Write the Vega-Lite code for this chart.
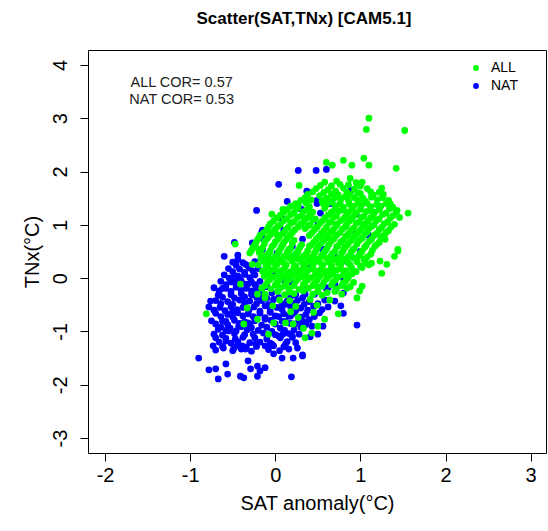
{
"$schema":"https://vega.github.io/schema/vega-lite/v6.json",
"width":458,"height":403,
"autosize":{"type":"none"},
"padding":{"left":88,"top":50,"right":2,"bottom":78},
"background":"white",
"config":{"view":{"stroke":"black","strokeWidth":1},"font":"Liberation Sans",
"axis":{"grid":false,"domain":false,"tickColor":"black","tickSize":8,"labelColor":"black","labelFontSize":20,"titleFontSize":20,"titleFontWeight":"normal","titleColor":"black","labelFont":"Liberation Sans","titleFont":"Liberation Sans"}},
"title":{"text":"Scatter(SAT,TNx) [CAM5.1]","font":"Liberation Sans","fontSize":17,"fontWeight":"bold","anchor":"middle","offset":22,"dx":-13,"color":"black"},
"layer":[
{"data":{"values":[
{"s":"NAT","x":0.27,"y":2.02},{"s":"NAT","x":0.48,"y":2.02},{"s":"NAT","x":0.60,"y":2.04},{"s":"NAT","x":0.04,"y":1.76},{"s":"NAT","x":0.39,"y":1.61},{"s":"NAT","x":0.14,"y":1.44},{"s":"NAT","x":0.49,"y":1.46},{"s":"NAT","x":0.37,"y":1.63},{"s":"NAT","x":0.89,"y":1.65},{"s":"NAT","x":-0.22,"y":1.27},{"s":"NAT","x":0.08,"y":1.12},{"s":"NAT","x":0.53,"y":1.22},{"s":"NAT","x":0.49,"y":1.40},{"s":"NAT","x":-0.15,"y":0.90},{"s":"NAT","x":-0.48,"y":0.67},{"s":"NAT","x":-0.27,"y":0.66},{"s":"NAT","x":-0.15,"y":0.75},{"s":"NAT","x":-0.16,"y":0.86},{"s":"NAT","x":0.32,"y":0.73},{"s":"NAT","x":0.02,"y":0.47},{"s":"NAT","x":-0.15,"y":0.54},{"s":"NAT","x":-0.60,"y":0.41},{"s":"NAT","x":-0.44,"y":0.43},{"s":"NAT","x":-0.44,"y":0.35},{"s":"NAT","x":-0.35,"y":0.26},{"s":"NAT","x":-0.44,"y":0.04},{"s":"NAT","x":-0.47,"y":-0.02},{"s":"NAT","x":0.20,"y":-0.09},
{"s":"NAT","x":0.2,"y":0.6},{"s":"NAT","x":0.5,"y":1.0},{"s":"NAT","x":0.7,"y":0.4},{"s":"NAT","x":0.4,"y":0.2},{"s":"NAT","x":0.9,"y":0.9},{"s":"NAT","x":0.6,"y":-0.2},{"s":"NAT","x":0.3,"y":1.3},{"s":"NAT","x":0.1,"y":0.9},{"s":"NAT","x":0.85,"y":0.3},{"s":"NAT","x":1.0,"y":0.5},{"s":"NAT","x":0.65,"y":1.4},{"s":"NAT","x":0.95,"y":1.2},{"s":"NAT","x":0.55,"y":0.55},{"s":"NAT","x":0.35,"y":-0.3},{"s":"NAT","x":0.8,"y":0.0},{"s":"NAT","x":-0.1,"y":0.35},{"s":"NAT","x":0.0,"y":0.1},{"s":"NAT","x":1.1,"y":0.8},
{"s":"NAT","x":-0.70,"y":-1.35},{"s":"NAT","x":-0.50,"y":-1.36},{"s":"NAT","x":-0.40,"y":-1.33},{"s":"NAT","x":-0.28,"y":-1.37},{"s":"NAT","x":-0.08,"y":-1.34},{"s":"NAT","x":0.05,"y":-1.36},{"s":"NAT","x":0.16,"y":-1.33},
{"s":"NAT","x":-0.66,"y":-1.20},{"s":"NAT","x":-0.52,"y":-1.22},{"s":"NAT","x":-0.44,"y":-1.19},{"s":"NAT","x":-0.30,"y":-1.21},{"s":"NAT","x":-0.18,"y":-1.20},{"s":"NAT","x":-0.06,"y":-1.22},{"s":"NAT","x":0.14,"y":-1.19},{"s":"NAT","x":0.24,"y":-1.21},
{"s":"NAT","x":-0.72,"y":-1.05},{"s":"NAT","x":-0.62,"y":-1.07},{"s":"NAT","x":-0.48,"y":-1.04},{"s":"NAT","x":-0.36,"y":-1.06},{"s":"NAT","x":-0.26,"y":-1.05},{"s":"NAT","x":-0.14,"y":-1.03},{"s":"NAT","x":0.00,"y":-1.06},{"s":"NAT","x":0.16,"y":-1.04},{"s":"NAT","x":0.28,"y":-1.05},
{"s":"NAT","x":-0.64,"y":-0.92},{"s":"NAT","x":-0.53,"y":-0.94},{"s":"NAT","x":-0.40,"y":-0.91},{"s":"NAT","x":-0.28,"y":-0.93},{"s":"NAT","x":-0.10,"y":-0.92},{"s":"NAT","x":0.06,"y":-0.94},{"s":"NAT","x":0.30,"y":-0.92},
{"s":"NAT","x":-0.75,"y":-0.80},{"s":"NAT","x":-0.62,"y":-0.81},{"s":"NAT","x":-0.48,"y":-0.79},{"s":"NAT","x":-0.36,"y":-0.82},{"s":"NAT","x":-0.24,"y":-0.80},{"s":"NAT","x":-0.05,"y":-0.79},{"s":"NAT","x":0.08,"y":-0.81},{"s":"NAT","x":0.28,"y":-0.80},{"s":"NAT","x":0.40,"y":-0.78},
{"s":"NAT","x":-0.70,"y":-0.66},{"s":"NAT","x":-0.56,"y":-0.68},{"s":"NAT","x":-0.44,"y":-0.65},{"s":"NAT","x":-0.32,"y":-0.67},{"s":"NAT","x":-0.18,"y":-0.66},{"s":"NAT","x":-0.06,"y":-0.64},{"s":"NAT","x":0.10,"y":-0.67},{"s":"NAT","x":0.22,"y":-0.66},{"s":"NAT","x":0.36,"y":-0.68},{"s":"NAT","x":0.52,"y":-0.65},
{"s":"NAT","x":-0.78,"y":-0.54},{"s":"NAT","x":-0.65,"y":-0.55},{"s":"NAT","x":-0.52,"y":-0.53},{"s":"NAT","x":-0.38,"y":-0.55},{"s":"NAT","x":-0.25,"y":-0.54},{"s":"NAT","x":-0.12,"y":-0.52},{"s":"NAT","x":0.02,"y":-0.55},{"s":"NAT","x":0.18,"y":-0.54},{"s":"NAT","x":0.30,"y":-0.56},{"s":"NAT","x":0.45,"y":-0.53},{"s":"NAT","x":0.62,"y":-0.54},
{"s":"NAT","x":-0.70,"y":-0.42},{"s":"NAT","x":-0.56,"y":-0.44},{"s":"NAT","x":-0.42,"y":-0.41},{"s":"NAT","x":-0.30,"y":-0.43},{"s":"NAT","x":-0.16,"y":-0.42},{"s":"NAT","x":-0.02,"y":-0.40},{"s":"NAT","x":0.14,"y":-0.43},{"s":"NAT","x":0.26,"y":-0.42},{"s":"NAT","x":0.40,"y":-0.44},{"s":"NAT","x":0.58,"y":-0.41},{"s":"NAT","x":0.70,"y":-0.43},
{"s":"NAT","x":-0.66,"y":-0.30},{"s":"NAT","x":-0.52,"y":-0.31},{"s":"NAT","x":-0.40,"y":-0.29},{"s":"NAT","x":-0.28,"y":-0.31},{"s":"NAT","x":-0.16,"y":-0.30},{"s":"NAT","x":-0.04,"y":-0.28},{"s":"NAT","x":0.24,"y":-0.31},{"s":"NAT","x":0.46,"y":-0.30},
{"s":"NAT","x":-0.72,"y":-0.18},{"s":"NAT","x":-0.58,"y":-0.19},{"s":"NAT","x":-0.46,"y":-0.17},{"s":"NAT","x":-0.34,"y":-0.19},{"s":"NAT","x":-0.22,"y":-0.18},{"s":"NAT","x":-0.10,"y":-0.16},{"s":"NAT","x":0.36,"y":-0.19},{"s":"NAT","x":0.62,"y":-0.18},
{"s":"NAT","x":-0.64,"y":-0.06},{"s":"NAT","x":-0.52,"y":-0.07},{"s":"NAT","x":-0.40,"y":-0.05},{"s":"NAT","x":-0.28,"y":-0.07},{"s":"NAT","x":-0.18,"y":-0.06},{"s":"NAT","x":0.10,"y":-0.04},
{"s":"NAT","x":-0.60,"y":0.06},{"s":"NAT","x":-0.48,"y":0.05},{"s":"NAT","x":-0.36,"y":0.07},{"s":"NAT","x":-0.24,"y":0.06},
{"s":"NAT","x":-0.55,"y":0.18},{"s":"NAT","x":-0.42,"y":0.17},{"s":"NAT","x":-0.30,"y":0.19},{"s":"NAT","x":-0.20,"y":0.18},
{"s":"NAT","x":-0.50,"y":0.30},{"s":"NAT","x":-0.38,"y":0.29},{"s":"NAT","x":-0.24,"y":0.31},
{"s":"NAT","x":-0.62,"y":-1.28},{"s":"NAT","x":-0.45,"y":-1.27},{"s":"NAT","x":-0.34,"y":-1.29},{"s":"NAT","x":-0.22,"y":-1.28},{"s":"NAT","x":-0.02,"y":-1.27},{"s":"NAT","x":0.10,"y":-1.29},
{"s":"NAT","x":-0.70,"y":-1.12},{"s":"NAT","x":-0.58,"y":-1.13},{"s":"NAT","x":-0.38,"y":-1.11},{"s":"NAT","x":-0.24,"y":-1.12},{"s":"NAT","x":-0.10,"y":-1.14},{"s":"NAT","x":0.06,"y":-1.12},{"s":"NAT","x":0.20,"y":-1.11},
{"s":"NAT","x":-0.58,"y":-0.98},{"s":"NAT","x":-0.46,"y":-0.99},{"s":"NAT","x":-0.33,"y":-0.97},{"s":"NAT","x":-0.20,"y":-0.98},{"s":"NAT","x":-0.04,"y":-1.00},{"s":"NAT","x":0.11,"y":-0.98},{"s":"NAT","x":0.22,"y":-0.97},
{"s":"NAT","x":-0.70,"y":-0.86},{"s":"NAT","x":-0.56,"y":-0.87},{"s":"NAT","x":-0.42,"y":-0.85},{"s":"NAT","x":-0.30,"y":-0.86},{"s":"NAT","x":-0.16,"y":-0.88},{"s":"NAT","x":0.00,"y":-0.86},{"s":"NAT","x":0.18,"y":-0.85},{"s":"NAT","x":0.36,"y":-0.87},
{"s":"NAT","x":-0.64,"y":-0.72},{"s":"NAT","x":-0.50,"y":-0.73},{"s":"NAT","x":-0.38,"y":-0.71},{"s":"NAT","x":-0.26,"y":-0.72},{"s":"NAT","x":-0.12,"y":-0.74},{"s":"NAT","x":0.04,"y":-0.72},{"s":"NAT","x":0.16,"y":-0.71},{"s":"NAT","x":0.30,"y":-0.73},{"s":"NAT","x":0.46,"y":-0.72},
{"s":"NAT","x":-0.72,"y":-0.60},{"s":"NAT","x":-0.59,"y":-0.61},{"s":"NAT","x":-0.45,"y":-0.59},{"s":"NAT","x":-0.31,"y":-0.60},{"s":"NAT","x":-0.18,"y":-0.62},{"s":"NAT","x":-0.06,"y":-0.60},{"s":"NAT","x":0.08,"y":-0.59},{"s":"NAT","x":0.24,"y":-0.61},{"s":"NAT","x":0.38,"y":-0.60},{"s":"NAT","x":0.55,"y":-0.59},
{"s":"NAT","x":-0.64,"y":-0.48},{"s":"NAT","x":-0.50,"y":-0.49},{"s":"NAT","x":-0.36,"y":-0.47},{"s":"NAT","x":-0.22,"y":-0.48},{"s":"NAT","x":-0.08,"y":-0.50},{"s":"NAT","x":0.08,"y":-0.48},{"s":"NAT","x":0.22,"y":-0.47},{"s":"NAT","x":0.34,"y":-0.49},{"s":"NAT","x":0.50,"y":-0.48},
{"s":"NAT","x":-0.62,"y":-0.36},{"s":"NAT","x":-0.48,"y":-0.37},{"s":"NAT","x":-0.36,"y":-0.35},{"s":"NAT","x":-0.22,"y":-0.36},{"s":"NAT","x":-0.10,"y":-0.38},{"s":"NAT","x":0.04,"y":-0.36},{"s":"NAT","x":0.18,"y":-0.35},{"s":"NAT","x":0.32,"y":-0.37},
{"s":"NAT","x":-0.66,"y":-0.24},{"s":"NAT","x":-0.52,"y":-0.25},{"s":"NAT","x":-0.40,"y":-0.23},{"s":"NAT","x":-0.28,"y":-0.24},{"s":"NAT","x":-0.16,"y":-0.26},
{"s":"NAT","x":-0.58,"y":-0.12},{"s":"NAT","x":-0.46,"y":-0.13},{"s":"NAT","x":-0.34,"y":-0.11},{"s":"NAT","x":-0.24,"y":-0.12},
{"s":"NAT","x":-0.54,"y":0.00},{"s":"NAT","x":-0.42,"y":-0.01},{"s":"NAT","x":-0.30,"y":0.01},
{"s":"NAT","x":-0.50,"y":0.12},{"s":"NAT","x":-0.36,"y":0.11},{"s":"NAT","x":-0.26,"y":0.13},
{"s":"NAT","x":-0.46,"y":0.24},{"s":"NAT","x":-0.32,"y":0.23},
{"s":"NAT","x":-0.67,"y":-0.32},{"s":"NAT","x":-0.76,"y":-0.43},{"s":"NAT","x":-0.62,"y":-0.19},{"s":"NAT","x":-0.50,"y":-0.62},{"s":"NAT","x":-0.58,"y":-0.81},{"s":"NAT","x":-0.67,"y":-0.96},{"s":"NAT","x":-0.55,"y":-0.99},{"s":"NAT","x":-0.43,"y":-0.90},{"s":"NAT","x":-0.32,"y":-0.84},
{"s":"NAT","x":-0.73,"y":-1.27},{"s":"NAT","x":-0.61,"y":-1.31},{"s":"NAT","x":-0.49,"y":-1.33},{"s":"NAT","x":-0.35,"y":-1.33},{"s":"NAT","x":-0.23,"y":-1.24},{"s":"NAT","x":-0.12,"y":-1.27},{"s":"NAT","x":-0.02,"y":-1.42},{"s":"NAT","x":0.08,"y":-1.50},{"s":"NAT","x":0.21,"y":-1.50},{"s":"NAT","x":0.32,"y":-1.46},
{"s":"NAT","x":-0.90,"y":-1.50},{"s":"NAT","x":-0.58,"y":-1.61},{"s":"NAT","x":-0.32,"y":-1.55},{"s":"NAT","x":-0.21,"y":-1.65},{"s":"NAT","x":-0.12,"y":-1.68},{"s":"NAT","x":-0.78,"y":-1.72},{"s":"NAT","x":-0.70,"y":-1.70},{"s":"NAT","x":-0.56,"y":-1.80},{"s":"NAT","x":-0.41,"y":-1.84},{"s":"NAT","x":-0.67,"y":-1.89},{"s":"NAT","x":-0.21,"y":-1.84},{"s":"NAT","x":0.19,"y":-1.85},{"s":"NAT","x":-0.37,"y":-1.87},{"s":"NAT","x":-0.29,"y":-1.70},{"s":"NAT","x":-0.18,"y":-1.74},
{"s":"NAT","x":-0.04,"y":-1.24},{"s":"NAT","x":0.12,"y":-1.24},{"s":"NAT","x":0.20,"y":-1.09},{"s":"NAT","x":0.04,"y":-1.09},{"s":"NAT","x":-0.08,"y":-1.05},{"s":"NAT","x":-0.23,"y":-0.75},{"s":"NAT","x":-0.12,"y":-0.77},{"s":"NAT","x":0.00,"y":-0.71},{"s":"NAT","x":0.12,"y":-0.81},{"s":"NAT","x":0.23,"y":-0.86},{"s":"NAT","x":0.18,"y":-0.71},{"s":"NAT","x":0.09,"y":-1.05},{"s":"NAT","x":0.26,"y":-1.31},
{"s":"NAT","x":-0.32,"y":-0.11},{"s":"NAT","x":-0.21,"y":-0.24},{"s":"NAT","x":-0.12,"y":-0.37},{"s":"NAT","x":-0.04,"y":-0.49},{"s":"NAT","x":0.12,"y":-0.49},{"s":"NAT","x":-0.58,"y":-1.18},{"s":"NAT","x":-0.47,"y":-1.14},{"s":"NAT","x":-0.39,"y":-1.27},
{"s":"NAT","x":0.96,"y":-0.88},{"s":"NAT","x":0.32,"y":-1.44},{"s":"NAT","x":0.50,"y":-1.05},{"s":"NAT","x":0.43,"y":-0.90},{"s":"NAT","x":0.41,"y":-1.10},{"s":"NAT","x":0.77,"y":-0.52},{"s":"NAT","x":0.80,"y":-0.66},{"s":"NAT","x":0.80,"y":-0.28},{"s":"NAT","x":0.70,"y":-0.11},{"s":"NAT","x":0.33,"y":-0.81},{"s":"NAT","x":0.56,"y":-0.90},
{"s":"ALL","x":1.10,"y":3.00},{"s":"ALL","x":1.07,"y":2.79},{"s":"ALL","x":1.52,"y":2.77},{"s":"ALL","x":0.80,"y":2.21},{"s":"ALL","x":1.04,"y":2.25},{"s":"ALL","x":1.10,"y":2.12},{"s":"ALL","x":0.90,"y":2.12},{"s":"ALL","x":0.60,"y":2.17},{"s":"ALL","x":0.67,"y":2.12},{"s":"ALL","x":1.42,"y":2.06},{"s":"ALL","x":0.88,"y":1.87},{"s":"ALL","x":1.02,"y":1.80},{"s":"ALL","x":0.76,"y":1.76},{"s":"ALL","x":1.25,"y":1.69},{"s":"ALL","x":1.56,"y":1.22},{"s":"ALL","x":1.46,"y":1.14},{"s":"ALL","x":1.35,"y":1.40},{"s":"ALL","x":1.43,"y":1.27},{"s":"ALL","x":1.29,"y":0.73},{"s":"ALL","x":1.44,"y":0.54},{"s":"ALL","x":0.28,"y":1.74},{"s":"ALL","x":-0.04,"y":1.20},{"s":"ALL","x":0.09,"y":1.29},{"s":"ALL","x":0.26,"y":1.31},{"s":"ALL","x":-0.47,"y":0.64},{"s":"ALL","x":-0.23,"y":0.58},{"s":"ALL","x":0.02,"y":0.82},{"s":"ALL","x":-0.81,"y":-0.67},{"s":"ALL","x":-0.27,"y":0.26},{"s":"ALL","x":-0.41,"y":-0.11},{"s":"ALL","x":-0.33,"y":-0.56},{"s":"ALL","x":-0.21,"y":-0.77},{"s":"ALL","x":-0.37,"y":-0.86},{"s":"ALL","x":-0.08,"y":-1.05},{"s":"ALL","x":-0.02,"y":-0.84},{"s":"ALL","x":0.12,"y":-0.84},{"s":"ALL","x":0.21,"y":-0.86},{"s":"ALL","x":-0.12,"y":-0.37},{"s":"ALL","x":-0.21,"y":-0.30},{"s":"ALL","x":0.74,"y":-0.67},{"s":"ALL","x":0.96,"y":-0.37},{"s":"ALL","x":0.99,"y":-0.24},{"s":"ALL","x":1.02,"y":-0.15},{"s":"ALL","x":1.25,"y":0.09},{"s":"ALL","x":1.31,"y":0.26},{"s":"ALL","x":1.40,"y":0.41},{"s":"ALL","x":1.44,"y":0.51},{"s":"ALL","x":0.58,"y":-0.77},{"s":"ALL","x":0.50,"y":-0.90},{"s":"ALL","x":0.35,"y":-1.12},{"s":"ALL","x":0.43,"y":-1.03},{"s":"ALL","x":0.33,"y":-0.94},{"s":"ALL","x":0.85,"y":0.00},{"s":"ALL","x":1.13,"y":0.28},{"s":"ALL","x":1.23,"y":0.32},{"s":"ALL","x":1.26,"y":0.79},
{"s":"ALL","x":0.58,"y":1.80},{"s":"ALL","x":0.72,"y":1.82},{"s":"ALL","x":0.95,"y":1.79},
{"s":"ALL","x":0.48,"y":1.68},{"s":"ALL","x":0.62,"y":1.66},{"s":"ALL","x":0.80,"y":1.69},{"s":"ALL","x":0.93,"y":1.67},{"s":"ALL","x":1.08,"y":1.68},
{"s":"ALL","x":0.38,"y":1.57},{"s":"ALL","x":0.52,"y":1.55},{"s":"ALL","x":0.66,"y":1.58},{"s":"ALL","x":0.74,"y":1.56},{"s":"ALL","x":0.88,"y":1.57},{"s":"ALL","x":1.00,"y":1.59},{"s":"ALL","x":1.15,"y":1.56},{"s":"ALL","x":1.27,"y":1.57},
{"s":"ALL","x":0.30,"y":1.46},{"s":"ALL","x":0.42,"y":1.47},{"s":"ALL","x":0.55,"y":1.45},{"s":"ALL","x":0.63,"y":1.46},{"s":"ALL","x":0.77,"y":1.48},{"s":"ALL","x":0.86,"y":1.45},{"s":"ALL","x":0.98,"y":1.46},{"s":"ALL","x":1.06,"y":1.44},{"s":"ALL","x":1.20,"y":1.47},{"s":"ALL","x":1.33,"y":1.46},
{"s":"ALL","x":0.18,"y":1.35},{"s":"ALL","x":0.27,"y":1.36},{"s":"ALL","x":0.40,"y":1.34},{"s":"ALL","x":0.60,"y":1.37},{"s":"ALL","x":0.71,"y":1.35},{"s":"ALL","x":0.80,"y":1.33},{"s":"ALL","x":0.92,"y":1.35},{"s":"ALL","x":1.01,"y":1.36},{"s":"ALL","x":1.12,"y":1.34},{"s":"ALL","x":1.24,"y":1.35},{"s":"ALL","x":1.38,"y":1.33},
{"s":"ALL","x":0.10,"y":1.24},{"s":"ALL","x":0.22,"y":1.23},{"s":"ALL","x":0.33,"y":1.25},{"s":"ALL","x":0.44,"y":1.24},{"s":"ALL","x":0.66,"y":1.24},{"s":"ALL","x":0.75,"y":1.26},{"s":"ALL","x":0.86,"y":1.24},{"s":"ALL","x":0.95,"y":1.23},{"s":"ALL","x":1.07,"y":1.25},{"s":"ALL","x":1.17,"y":1.24},{"s":"ALL","x":1.30,"y":1.22},{"s":"ALL","x":1.42,"y":1.24},
{"s":"ALL","x":0.02,"y":1.13},{"s":"ALL","x":0.14,"y":1.12},{"s":"ALL","x":0.26,"y":1.14},{"s":"ALL","x":0.37,"y":1.13},{"s":"ALL","x":0.47,"y":1.11},{"s":"ALL","x":0.58,"y":1.13},{"s":"ALL","x":0.69,"y":1.15},{"s":"ALL","x":0.81,"y":1.13},{"s":"ALL","x":0.90,"y":1.12},{"s":"ALL","x":1.01,"y":1.14},{"s":"ALL","x":1.12,"y":1.13},{"s":"ALL","x":1.22,"y":1.11},{"s":"ALL","x":1.35,"y":1.13},
{"s":"ALL","x":-0.06,"y":1.02},{"s":"ALL","x":0.06,"y":1.01},{"s":"ALL","x":0.18,"y":1.03},{"s":"ALL","x":0.30,"y":1.02},{"s":"ALL","x":0.41,"y":1.00},{"s":"ALL","x":0.52,"y":1.02},{"s":"ALL","x":0.63,"y":1.04},{"s":"ALL","x":0.73,"y":1.02},{"s":"ALL","x":0.84,"y":1.01},{"s":"ALL","x":0.95,"y":1.03},{"s":"ALL","x":1.05,"y":1.02},{"s":"ALL","x":1.16,"y":1.00},{"s":"ALL","x":1.28,"y":1.02},{"s":"ALL","x":1.40,"y":1.01},
{"s":"ALL","x":-0.10,"y":0.91},{"s":"ALL","x":0.00,"y":0.92},{"s":"ALL","x":0.12,"y":0.90},{"s":"ALL","x":0.23,"y":0.91},{"s":"ALL","x":0.35,"y":0.93},{"s":"ALL","x":0.46,"y":0.91},{"s":"ALL","x":0.57,"y":0.89},{"s":"ALL","x":0.68,"y":0.91},{"s":"ALL","x":0.79,"y":0.92},{"s":"ALL","x":0.89,"y":0.90},{"s":"ALL","x":1.00,"y":0.91},{"s":"ALL","x":1.10,"y":0.93},{"s":"ALL","x":1.22,"y":0.91},{"s":"ALL","x":1.33,"y":0.89},
{"s":"ALL","x":-0.18,"y":0.80},{"s":"ALL","x":-0.06,"y":0.81},{"s":"ALL","x":0.05,"y":0.79},{"s":"ALL","x":0.17,"y":0.80},{"s":"ALL","x":0.40,"y":0.80},{"s":"ALL","x":0.51,"y":0.78},{"s":"ALL","x":0.62,"y":0.80},{"s":"ALL","x":0.72,"y":0.81},{"s":"ALL","x":0.83,"y":0.79},{"s":"ALL","x":0.94,"y":0.80},{"s":"ALL","x":1.05,"y":0.82},{"s":"ALL","x":1.16,"y":0.80},{"s":"ALL","x":1.27,"y":0.78},
{"s":"ALL","x":-0.22,"y":0.69},{"s":"ALL","x":-0.12,"y":0.70},{"s":"ALL","x":0.00,"y":0.68},{"s":"ALL","x":0.11,"y":0.69},{"s":"ALL","x":0.22,"y":0.71},{"s":"ALL","x":0.45,"y":0.67},{"s":"ALL","x":0.56,"y":0.69},{"s":"ALL","x":0.66,"y":0.70},{"s":"ALL","x":0.77,"y":0.68},{"s":"ALL","x":0.88,"y":0.69},{"s":"ALL","x":0.99,"y":0.71},{"s":"ALL","x":1.10,"y":0.69},{"s":"ALL","x":1.22,"y":0.67},
{"s":"ALL","x":-0.26,"y":0.58},{"s":"ALL","x":-0.15,"y":0.57},{"s":"ALL","x":-0.04,"y":0.59},{"s":"ALL","x":0.07,"y":0.58},{"s":"ALL","x":0.18,"y":0.56},{"s":"ALL","x":0.29,"y":0.58},{"s":"ALL","x":0.40,"y":0.60},{"s":"ALL","x":0.50,"y":0.58},{"s":"ALL","x":0.61,"y":0.57},{"s":"ALL","x":0.72,"y":0.59},{"s":"ALL","x":0.82,"y":0.58},{"s":"ALL","x":0.93,"y":0.56},{"s":"ALL","x":1.05,"y":0.58},{"s":"ALL","x":1.17,"y":0.60},
{"s":"ALL","x":-0.30,"y":0.47},{"s":"ALL","x":-0.19,"y":0.48},{"s":"ALL","x":-0.08,"y":0.46},{"s":"ALL","x":0.03,"y":0.47},{"s":"ALL","x":0.14,"y":0.49},{"s":"ALL","x":0.25,"y":0.47},{"s":"ALL","x":0.36,"y":0.45},{"s":"ALL","x":0.46,"y":0.47},{"s":"ALL","x":0.57,"y":0.48},{"s":"ALL","x":0.67,"y":0.46},{"s":"ALL","x":0.78,"y":0.47},{"s":"ALL","x":0.89,"y":0.49},{"s":"ALL","x":1.00,"y":0.47},{"s":"ALL","x":1.12,"y":0.45},
{"s":"ALL","x":-0.17,"y":0.37},{"s":"ALL","x":-0.06,"y":0.35},{"s":"ALL","x":0.05,"y":0.36},{"s":"ALL","x":0.16,"y":0.38},{"s":"ALL","x":0.27,"y":0.36},{"s":"ALL","x":0.38,"y":0.34},{"s":"ALL","x":0.49,"y":0.36},{"s":"ALL","x":0.60,"y":0.37},{"s":"ALL","x":0.70,"y":0.35},{"s":"ALL","x":0.81,"y":0.36},{"s":"ALL","x":0.92,"y":0.38},{"s":"ALL","x":1.04,"y":0.36},
{"s":"ALL","x":-0.20,"y":0.25},{"s":"ALL","x":-0.09,"y":0.24},{"s":"ALL","x":0.02,"y":0.26},{"s":"ALL","x":0.13,"y":0.25},{"s":"ALL","x":0.24,"y":0.23},{"s":"ALL","x":0.35,"y":0.25},{"s":"ALL","x":0.45,"y":0.27},{"s":"ALL","x":0.56,"y":0.25},{"s":"ALL","x":0.66,"y":0.24},{"s":"ALL","x":0.77,"y":0.26},{"s":"ALL","x":0.88,"y":0.25},{"s":"ALL","x":1.00,"y":0.23},{"s":"ALL","x":1.10,"y":0.25},
{"s":"ALL","x":-0.15,"y":0.13},{"s":"ALL","x":-0.04,"y":0.15},{"s":"ALL","x":0.07,"y":0.14},{"s":"ALL","x":0.18,"y":0.12},{"s":"ALL","x":0.29,"y":0.14},{"s":"ALL","x":0.40,"y":0.16},{"s":"ALL","x":0.51,"y":0.14},{"s":"ALL","x":0.61,"y":0.13},{"s":"ALL","x":0.72,"y":0.15},{"s":"ALL","x":0.83,"y":0.14},{"s":"ALL","x":0.95,"y":0.12},
{"s":"ALL","x":-0.13,"y":0.04},{"s":"ALL","x":-0.02,"y":0.02},{"s":"ALL","x":0.09,"y":0.03},{"s":"ALL","x":0.20,"y":0.05},{"s":"ALL","x":0.31,"y":0.03},{"s":"ALL","x":0.42,"y":0.01},{"s":"ALL","x":0.52,"y":0.03},{"s":"ALL","x":0.63,"y":0.04},{"s":"ALL","x":0.74,"y":0.02},{"s":"ALL","x":0.86,"y":0.03},
{"s":"ALL","x":-0.09,"y":-0.07},{"s":"ALL","x":0.02,"y":-0.09},{"s":"ALL","x":0.13,"y":-0.08},{"s":"ALL","x":0.24,"y":-0.06},{"s":"ALL","x":0.35,"y":-0.08},{"s":"ALL","x":0.46,"y":-0.10},{"s":"ALL","x":0.57,"y":-0.08},{"s":"ALL","x":0.68,"y":-0.07},{"s":"ALL","x":0.80,"y":-0.09},{"s":"ALL","x":0.92,"y":-0.08},
{"s":"ALL","x":-0.16,"y":-0.19},{"s":"ALL","x":-0.05,"y":-0.20},{"s":"ALL","x":0.06,"y":-0.18},{"s":"ALL","x":0.17,"y":-0.19},{"s":"ALL","x":0.28,"y":-0.21},{"s":"ALL","x":0.39,"y":-0.19},{"s":"ALL","x":0.50,"y":-0.17},{"s":"ALL","x":0.72,"y":-0.20},{"s":"ALL","x":0.84,"y":-0.19},
{"s":"ALL","x":-0.12,"y":-0.30},{"s":"ALL","x":0.11,"y":-0.31},{"s":"ALL","x":0.22,"y":-0.29},{"s":"ALL","x":0.44,"y":-0.30},{"s":"ALL","x":0.55,"y":-0.32},{"s":"ALL","x":0.78,"y":-0.30},
{"s":"ALL","x":0.05,"y":-0.41},{"s":"ALL","x":0.17,"y":-0.42},{"s":"ALL","x":0.41,"y":-0.40},{"s":"ALL","x":0.64,"y":-0.41},
{"s":"ALL","x":-0.03,"y":-0.52},{"s":"ALL","x":0.24,"y":-0.53},{"s":"ALL","x":0.49,"y":-0.51},
{"s":"ALL","x":0.18,"y":-0.63},{"s":"ALL","x":0.45,"y":-0.64},
{"s":"ALL","x":0.27,"y":-0.74},
{"s":"ALL","x":0.53,"y":1.74},{"s":"ALL","x":0.66,"y":1.73},{"s":"ALL","x":0.86,"y":1.75},{"s":"ALL","x":1.00,"y":1.73},
{"s":"ALL","x":0.44,"y":1.62},{"s":"ALL","x":0.57,"y":1.61},{"s":"ALL","x":0.71,"y":1.63},{"s":"ALL","x":0.84,"y":1.62},{"s":"ALL","x":0.97,"y":1.60},{"s":"ALL","x":1.12,"y":1.62},{"s":"ALL","x":1.22,"y":1.61},
{"s":"ALL","x":0.35,"y":1.51},{"s":"ALL","x":0.60,"y":1.50},{"s":"ALL","x":0.70,"y":1.51},{"s":"ALL","x":0.82,"y":1.53},{"s":"ALL","x":0.93,"y":1.51},{"s":"ALL","x":1.03,"y":1.50},{"s":"ALL","x":1.13,"y":1.52},{"s":"ALL","x":1.26,"y":1.51},
{"s":"ALL","x":0.24,"y":1.40},{"s":"ALL","x":0.36,"y":1.41},{"s":"ALL","x":0.56,"y":1.40},{"s":"ALL","x":0.67,"y":1.42},{"s":"ALL","x":0.76,"y":1.40},{"s":"ALL","x":0.87,"y":1.39},{"s":"ALL","x":0.97,"y":1.41},{"s":"ALL","x":1.08,"y":1.40},{"s":"ALL","x":1.19,"y":1.38},{"s":"ALL","x":1.30,"y":1.40},
{"s":"ALL","x":0.14,"y":1.29},{"s":"ALL","x":0.25,"y":1.30},{"s":"ALL","x":0.37,"y":1.28},{"s":"ALL","x":0.58,"y":1.31},{"s":"ALL","x":0.70,"y":1.29},{"s":"ALL","x":0.80,"y":1.28},{"s":"ALL","x":0.90,"y":1.30},{"s":"ALL","x":1.00,"y":1.29},{"s":"ALL","x":1.11,"y":1.27},{"s":"ALL","x":1.22,"y":1.29},{"s":"ALL","x":1.34,"y":1.30},
{"s":"ALL","x":0.06,"y":1.18},{"s":"ALL","x":0.18,"y":1.19},{"s":"ALL","x":0.30,"y":1.17},{"s":"ALL","x":0.41,"y":1.18},{"s":"ALL","x":0.62,"y":1.18},{"s":"ALL","x":0.72,"y":1.17},{"s":"ALL","x":0.84,"y":1.19},{"s":"ALL","x":0.93,"y":1.18},{"s":"ALL","x":1.04,"y":1.16},{"s":"ALL","x":1.15,"y":1.18},{"s":"ALL","x":1.26,"y":1.19},{"s":"ALL","x":1.38,"y":1.17},
{"s":"ALL","x":-0.02,"y":1.07},{"s":"ALL","x":0.10,"y":1.08},{"s":"ALL","x":0.22,"y":1.06},{"s":"ALL","x":0.34,"y":1.07},{"s":"ALL","x":0.44,"y":1.09},{"s":"ALL","x":0.55,"y":1.07},{"s":"ALL","x":0.66,"y":1.06},{"s":"ALL","x":0.77,"y":1.08},{"s":"ALL","x":0.87,"y":1.07},{"s":"ALL","x":0.98,"y":1.05},{"s":"ALL","x":1.09,"y":1.07},{"s":"ALL","x":1.19,"y":1.08},{"s":"ALL","x":1.32,"y":1.06},
{"s":"ALL","x":-0.08,"y":0.96},{"s":"ALL","x":0.03,"y":0.97},{"s":"ALL","x":0.15,"y":0.95},{"s":"ALL","x":0.27,"y":0.96},{"s":"ALL","x":0.38,"y":0.98},{"s":"ALL","x":0.49,"y":0.96},{"s":"ALL","x":0.60,"y":0.95},{"s":"ALL","x":0.71,"y":0.97},{"s":"ALL","x":0.82,"y":0.96},{"s":"ALL","x":0.92,"y":0.94},{"s":"ALL","x":1.03,"y":0.96},{"s":"ALL","x":1.13,"y":0.97},{"s":"ALL","x":1.25,"y":0.95},{"s":"ALL","x":1.36,"y":0.96},
{"s":"ALL","x":-0.14,"y":0.85},{"s":"ALL","x":-0.03,"y":0.86},{"s":"ALL","x":0.09,"y":0.84},{"s":"ALL","x":0.20,"y":0.85},{"s":"ALL","x":0.43,"y":0.85},{"s":"ALL","x":0.54,"y":0.84},{"s":"ALL","x":0.65,"y":0.86},{"s":"ALL","x":0.76,"y":0.85},{"s":"ALL","x":0.86,"y":0.83},{"s":"ALL","x":0.97,"y":0.85},{"s":"ALL","x":1.08,"y":0.86},{"s":"ALL","x":1.19,"y":0.84},{"s":"ALL","x":1.30,"y":0.85},
{"s":"ALL","x":-0.20,"y":0.74},{"s":"ALL","x":-0.09,"y":0.75},{"s":"ALL","x":0.03,"y":0.73},{"s":"ALL","x":0.14,"y":0.74},{"s":"ALL","x":0.48,"y":0.73},{"s":"ALL","x":0.59,"y":0.75},{"s":"ALL","x":0.69,"y":0.74},{"s":"ALL","x":0.80,"y":0.72},{"s":"ALL","x":0.91,"y":0.74},{"s":"ALL","x":1.02,"y":0.75},{"s":"ALL","x":1.13,"y":0.73},{"s":"ALL","x":1.24,"y":0.74},
{"s":"ALL","x":-0.24,"y":0.63},{"s":"ALL","x":-0.13,"y":0.64},{"s":"ALL","x":-0.02,"y":0.62},{"s":"ALL","x":0.09,"y":0.63},{"s":"ALL","x":0.20,"y":0.65},{"s":"ALL","x":0.31,"y":0.63},{"s":"ALL","x":0.42,"y":0.62},{"s":"ALL","x":0.53,"y":0.64},{"s":"ALL","x":0.63,"y":0.63},{"s":"ALL","x":0.74,"y":0.61},{"s":"ALL","x":0.85,"y":0.63},{"s":"ALL","x":0.96,"y":0.64},{"s":"ALL","x":1.07,"y":0.62},{"s":"ALL","x":1.19,"y":0.63},
{"s":"ALL","x":-0.28,"y":0.52},{"s":"ALL","x":-0.17,"y":0.53},{"s":"ALL","x":-0.06,"y":0.51},{"s":"ALL","x":0.05,"y":0.52},{"s":"ALL","x":0.16,"y":0.54},{"s":"ALL","x":0.27,"y":0.52},{"s":"ALL","x":0.38,"y":0.51},{"s":"ALL","x":0.48,"y":0.53},{"s":"ALL","x":0.59,"y":0.52},{"s":"ALL","x":0.70,"y":0.50},{"s":"ALL","x":0.80,"y":0.52},{"s":"ALL","x":0.91,"y":0.53},{"s":"ALL","x":1.02,"y":0.51},{"s":"ALL","x":1.14,"y":0.52},
{"s":"ALL","x":-0.12,"y":0.42},{"s":"ALL","x":-0.01,"y":0.40},{"s":"ALL","x":0.10,"y":0.41},{"s":"ALL","x":0.21,"y":0.43},{"s":"ALL","x":0.32,"y":0.41},{"s":"ALL","x":0.43,"y":0.40},{"s":"ALL","x":0.54,"y":0.42},{"s":"ALL","x":0.65,"y":0.41},{"s":"ALL","x":0.75,"y":0.39},{"s":"ALL","x":0.86,"y":0.41},{"s":"ALL","x":0.98,"y":0.42},{"s":"ALL","x":1.08,"y":0.40},
{"s":"ALL","x":-0.13,"y":0.31},{"s":"ALL","x":-0.02,"y":0.29},{"s":"ALL","x":0.09,"y":0.30},{"s":"ALL","x":0.20,"y":0.32},{"s":"ALL","x":0.31,"y":0.30},{"s":"ALL","x":0.42,"y":0.29},{"s":"ALL","x":0.52,"y":0.31},{"s":"ALL","x":0.63,"y":0.30},{"s":"ALL","x":0.74,"y":0.28},{"s":"ALL","x":0.85,"y":0.30},{"s":"ALL","x":0.96,"y":0.31},{"s":"ALL","x":1.06,"y":0.29},
{"s":"ALL","x":-0.11,"y":0.20},{"s":"ALL","x":0.00,"y":0.18},{"s":"ALL","x":0.11,"y":0.19},{"s":"ALL","x":0.22,"y":0.21},{"s":"ALL","x":0.33,"y":0.19},{"s":"ALL","x":0.44,"y":0.18},{"s":"ALL","x":0.55,"y":0.20},{"s":"ALL","x":0.66,"y":0.19},{"s":"ALL","x":0.77,"y":0.17},{"s":"ALL","x":0.90,"y":0.19},{"s":"ALL","x":1.02,"y":0.20},
{"s":"ALL","x":-0.08,"y":0.09},{"s":"ALL","x":0.03,"y":0.07},{"s":"ALL","x":0.14,"y":0.08},{"s":"ALL","x":0.25,"y":0.10},{"s":"ALL","x":0.36,"y":0.08},{"s":"ALL","x":0.47,"y":0.07},{"s":"ALL","x":0.58,"y":0.09},{"s":"ALL","x":0.68,"y":0.08},{"s":"ALL","x":0.80,"y":0.06},{"s":"ALL","x":0.90,"y":0.08},
{"s":"ALL","x":-0.06,"y":-0.02},{"s":"ALL","x":0.05,"y":-0.04},{"s":"ALL","x":0.16,"y":-0.03},{"s":"ALL","x":0.27,"y":-0.01},{"s":"ALL","x":0.38,"y":-0.03},{"s":"ALL","x":0.49,"y":-0.04},{"s":"ALL","x":0.60,"y":-0.02},{"s":"ALL","x":0.71,"y":-0.03},{"s":"ALL","x":0.83,"y":-0.05},
{"s":"ALL","x":-0.12,"y":-0.14},{"s":"ALL","x":0.00,"y":-0.13},{"s":"ALL","x":0.11,"y":-0.15},{"s":"ALL","x":0.22,"y":-0.14},{"s":"ALL","x":0.33,"y":-0.12},{"s":"ALL","x":0.44,"y":-0.14},{"s":"ALL","x":0.55,"y":-0.15},{"s":"ALL","x":0.66,"y":-0.13},{"s":"ALL","x":0.78,"y":-0.14},{"s":"ALL","x":0.88,"y":-0.16},
{"s":"ALL","x":0.03,"y":-0.25},{"s":"ALL","x":0.16,"y":-0.26},{"s":"ALL","x":0.33,"y":-0.24},{"s":"ALL","x":0.50,"y":-0.25},{"s":"ALL","x":0.61,"y":-0.27},{"s":"ALL","x":0.70,"y":-0.25}
]},
"mark":{"type":"circle","size":46,"opacity":1},
"encoding":{
"x":{"field":"x","type":"quantitative","scale":{"domain":[-2.2,3.18],"nice":false,"zero":false},"axis":{"values":[-2,-1,0,1,2,3],"labelExpr":"datum.value < 0 ? '-' + abs(datum.value) : '' + datum.value","title":"SAT anomaly(°C)","labelPadding":4,"titlePadding":8}},
"y":{"field":"y","type":"quantitative","scale":{"domain":[-3.28,4.28],"nice":false,"zero":false},"axis":{"values":[-3,-2,-1,0,1,2,3,4],"labelExpr":"datum.value < 0 ? '-' + abs(datum.value) : '' + datum.value","title":"TNx(°C)","labelAngle":-90,"labelAlign":"center","labelBaseline":"bottom","labelPadding":10,"titlePadding":8}},
"color":{"field":"s","type":"nominal","scale":{"domain":["ALL","NAT"],"range":["#00ff00","#0000ff"]},"legend":{"title":null,"orient":"none","legendX":381,"legendY":11,"labelFontSize":14,"labelColor":"black","symbolType":"circle","symbolSize":34,"rowPadding":4,"labelOffset":8,"symbolStrokeWidth":0}}
}},
{"data":{"values":[{"x":-1.1,"y":3.66,"t":"ALL COR= 0.57"},{"x":-1.1,"y":3.35,"t":"NAT COR= 0.53"}]},
"mark":{"type":"text","fontSize":14.5,"font":"Liberation Sans","color":"#222","baseline":"middle","align":"center"},
"encoding":{"x":{"field":"x","type":"quantitative"},"y":{"field":"y","type":"quantitative"},"text":{"field":"t"}}}
]
}
